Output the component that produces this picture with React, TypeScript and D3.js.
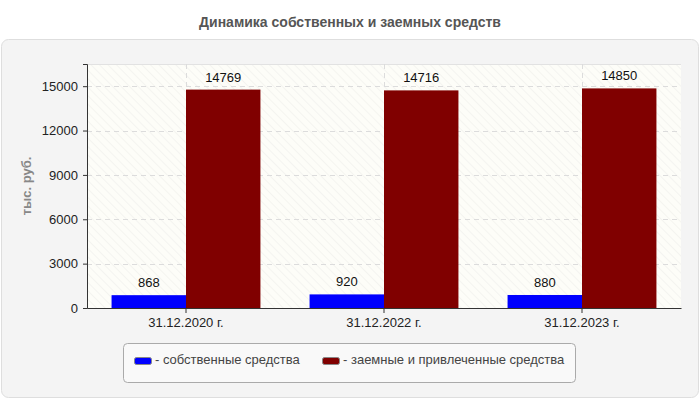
import React, { useEffect, useRef } from 'react';
import * as d3 from 'd3';

const categories = ['31.12.2020 г.', '31.12.2022 г.', '31.12.2023 г.'];
const ownFunds = [868, 920, 880];
const borrowedFunds = [14769, 14716, 14850];
const seriesNames = ['собственные средства', 'заемные и привлеченные средства'];
const seriesColors = ['#0000ff', '#800000'];
const yTicks = [0, 3000, 6000, 9000, 12000, 15000];

const FONT = '"Liberation Sans", Arial, sans-serif';

export default function App() {
  const ref = useRef<SVGSVGElement>(null);

  useEffect(() => {
    if (!ref.current) return;
    const svg = d3.select(ref.current);
    svg.selectAll('*').remove();

    const width = 700;
    const height = 400;
    const margin = { top: 64, right: 19, bottom: 92, left: 87 };
    const iw = width - margin.left - margin.right;
    const ih = height - margin.top - margin.bottom;

    // hatch pattern
    const defs = svg.append('defs');
    const pat = defs.append('pattern')
      .attr('id', 'hatch')
      .attr('patternUnits', 'userSpaceOnUse')
      .attr('width', 6)
      .attr('height', 6)
      .attr('patternTransform', 'rotate(-45)');
    pat.append('rect').attr('width', 6).attr('height', 6).attr('fill', '#fdfdf8');
    pat.append('line').attr('x1', 0).attr('y1', 0).attr('x2', 0).attr('y2', 6)
      .attr('stroke', '#ebebe8').attr('stroke-width', 1);

    svg.append('text')
      .attr('x', width / 2).attr('y', 27)
      .attr('text-anchor', 'middle')
      .attr('font-family', FONT).attr('font-size', 14).attr('font-weight', 'bold')
      .attr('fill', '#555')
      .text('Динамика собственных и заемных средств');

    // panel
    svg.append('rect')
      .attr('x', 1.5).attr('y', 39.5).attr('width', 697).attr('height', 358)
      .attr('rx', 7)
      .attr('fill', '#f4f4f4').attr('stroke', '#dedede');

    const x = d3.scaleBand<string>().domain(categories).range([margin.left, margin.left + iw]);
    const y = d3.scaleLinear().domain([0, 16500]).range([margin.top + ih, margin.top]);

    svg.append('rect')
      .attr('x', margin.left).attr('y', margin.top).attr('width', iw).attr('height', ih)
      .attr('fill', 'url(#hatch)');

    svg.append('line')
      .attr('x1', margin.left).attr('x2', margin.left + iw)
      .attr('y1', margin.top + 0.5).attr('y2', margin.top + 0.5)
      .attr('stroke', '#e2e2e2');

    // grid
    const grid = svg.append('g').attr('stroke', '#dcdcdc').attr('stroke-dasharray', '5,4');
    grid.selectAll('line.h').data(yTicks.filter(t => t > 0)).join('line')
      .attr('class', 'h')
      .attr('x1', margin.left).attr('x2', margin.left + iw)
      .attr('y1', d => Math.round(y(d)) + 0.5).attr('y2', d => Math.round(y(d)) + 0.5);
    grid.selectAll('line.v').data(categories).join('line')
      .attr('class', 'v')
      .attr('x1', d => Math.round(x(d)! + x.bandwidth() / 2) + 0.5)
      .attr('x2', d => Math.round(x(d)! + x.bandwidth() / 2) + 0.5)
      .attr('y1', margin.top).attr('y2', margin.top + ih);

    // bars
    const inner = d3.scaleBand<number>().domain([0, 1]).range([0, x.bandwidth()]).paddingOuter(0.33).paddingInner(0);
    const series = [ownFunds, borrowedFunds];
    series.forEach((vals, si) => {
      const g = svg.append('g');
      g.selectAll('rect').data(vals).join('rect')
        .attr('x', (_, i) => x(categories[i])! + inner(si)!)
        .attr('width', inner.bandwidth())
        .attr('y', d => y(d))
        .attr('height', d => y(0) - y(d))
        .attr('fill', seriesColors[si]);
      g.selectAll('text').data(vals).join('text')
        .attr('x', (_, i) => x(categories[i])! + inner(si)! + inner.bandwidth() / 2)
        .attr('y', d => y(d) - 8)
        .attr('text-anchor', 'middle')
        .attr('font-family', FONT).attr('font-size', 13).attr('fill', '#111')
        .text(d => String(d));
    });

    // axes
    const yAxis = svg.append('g')
      .attr('transform', `translate(${margin.left},0)`)
      .call(d3.axisLeft(y).tickValues(yTicks).tickSize(4).tickPadding(5).tickFormat(d => String(d)));
    yAxis.select('.domain').attr('stroke', '#333');
    yAxis.selectAll('.tick line').attr('stroke', '#333');
    yAxis.selectAll('text').attr('font-family', FONT).attr('font-size', 13).attr('fill', '#222');

    const xAxis = svg.append('g')
      .attr('transform', `translate(0,${margin.top + ih})`)
      .call(d3.axisBottom(x).tickSize(5).tickPadding(5).tickSizeOuter(0));
    xAxis.select('.domain').attr('stroke', '#333');
    xAxis.selectAll('.tick line').attr('stroke', '#333');
    xAxis.selectAll('text').attr('font-family', FONT).attr('font-size', 13).attr('fill', '#222');

    svg.append('text')
      .attr('transform', `translate(31,${margin.top + ih / 2}) rotate(-90)`)
      .attr('text-anchor', 'middle')
      .attr('font-family', FONT).attr('font-size', 13).attr('font-weight', 'bold')
      .attr('fill', '#888')
      .text('тыс. руб.');

    // legend
    const lg = svg.append('g');
    lg.append('rect')
      .attr('x', 123.5).attr('y', 343.5).attr('width', 452).attr('height', 39)
      .attr('rx', 4).attr('fill', '#f9f9f9').attr('stroke', '#aaa');
    const legendX = [134, 322];
    seriesNames.forEach((name, i) => {
      lg.append('rect')
        .attr('x', legendX[i] + 0.5).attr('y', 357.5).attr('width', 17).attr('height', 7)
        .attr('rx', 2).attr('fill', seriesColors[i]).attr('stroke', '#888');
      lg.append('text')
        .attr('x', legendX[i] + 21).attr('y', 364)
        .attr('font-family', FONT).attr('font-size', 13).attr('fill', '#444')
        .text('- ' + name);
    });
  }, []);

  return (
    <svg ref={ref} width={700} height={400}
      style={{ position: 'absolute', left: 0, top: 0, background: '#fff' }} />
  );
}
